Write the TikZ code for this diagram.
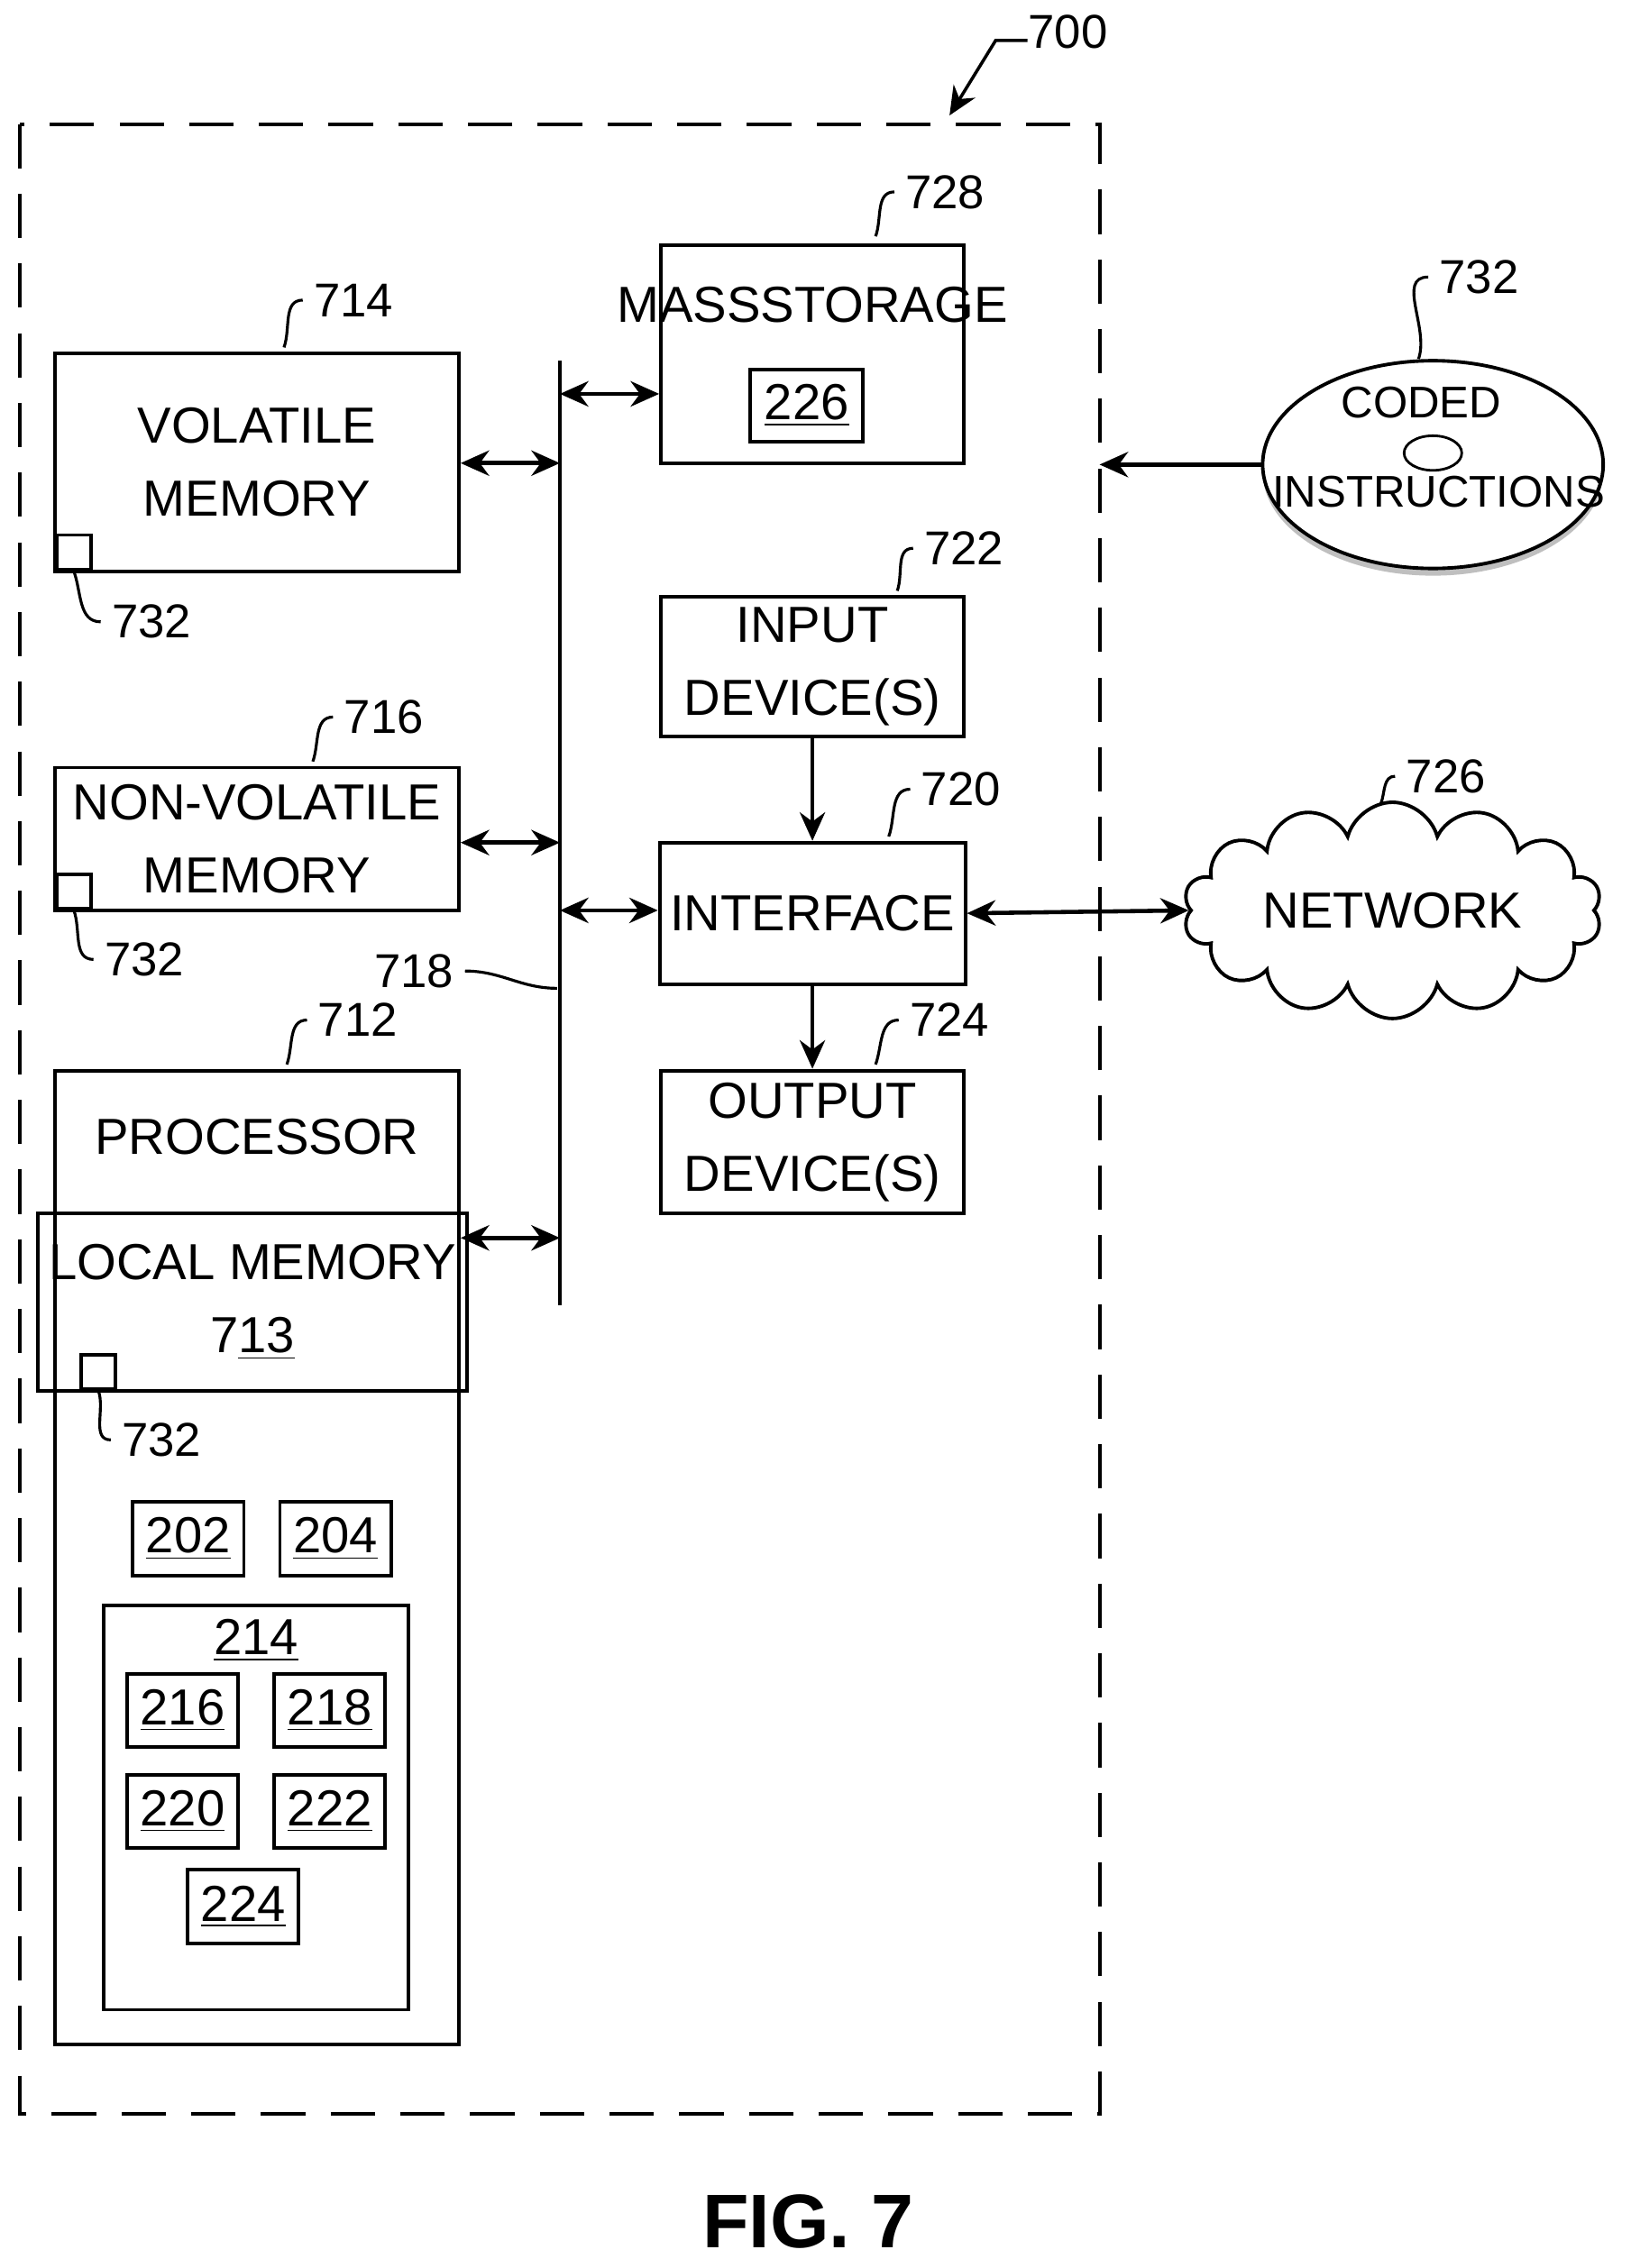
\documentclass[tikz,border=0pt]{standalone}
\usepackage{fontspec}
\setmainfont{Liberation Sans}
\usetikzlibrary{arrows.meta,shapes.symbols,shapes.geometric}
\tikzset{
  blk/.style={draw,line width=1.1pt,align=center},
  ref/.style={font=\fontsize{15}{17}\selectfont},
  dbl/.style={{Stealth[length=9pt,width=8pt]}-{Stealth[length=9pt,width=8pt]},line width=1.3pt},
  sgl/.style={-{Stealth[length=9pt,width=8pt]},line width=1.3pt},
  lead/.style={line width=0.9pt}
}
\begin{document}
\begin{tikzpicture}[x=0.016cm,y=-0.016cm,font=\fontsize{16}{23}\selectfont]
\useasboundingbox (0,0) rectangle (1130,1572);
%\draw[help lines] (0,0) grid (1130,1572);
\draw [dash pattern=on 14pt off 8pt,line width=1.1pt] (14,86) rectangle (762,1465);
\node (l700) [ref] at (740,22) {700};
\draw [sgl,line width=1pt] (712,28) -- (690,28) -- (658,80);

% memories
\node (vol) [blk,minimum width=280*0.016cm,minimum height=151*0.016cm] at (178,320.5) {VOLATILE\\MEMORY};
\node (nvol) [blk,minimum width=280*0.016cm,minimum height=99*0.016cm] at (178,581.5) {NON-VOLATILE\\MEMORY};
\node (proc) [blk,minimum width=280*0.016cm,minimum height=675*0.016cm] at (178,1079.5) {};
\node (proct) at (178,788) {PROCESSOR};
\node (loc) [blk,minimum width=240*0.016cm,minimum height=123*0.016cm] at (175,902.5) {LOCAL MEMORY\\7\underline{13}};
\node (q1) [blk,minimum size=24*0.016cm,anchor=south west] at (38,396) {};
\node (q2) [blk,minimum size=24*0.016cm,anchor=south west] at (38,631) {};
\node (q3) [blk,minimum size=24*0.016cm,anchor=south west] at (55,964) {};
\node (r202) [blk,minimum width=77*0.016cm,minimum height=51*0.016cm] at (130.5,1066.5) {\underline{202}};
\node (r204) [blk,minimum width=77*0.016cm,minimum height=51*0.016cm] at (232.5,1066.5) {\underline{204}};
\node (r214) [blk,minimum width=211*0.016cm,minimum height=280*0.016cm] at (177.5,1253) {};
\node (t214) at (177.5,1137) {\underline{214}};
\node (r216) [blk,minimum width=77*0.016cm,minimum height=51*0.016cm] at (126.5,1185.5) {\underline{216}};
\node (r218) [blk,minimum width=77*0.016cm,minimum height=51*0.016cm] at (228.5,1185.5) {\underline{218}};
\node (r220) [blk,minimum width=77*0.016cm,minimum height=51*0.016cm] at (126.5,1255.5) {\underline{220}};
\node (r222) [blk,minimum width=77*0.016cm,minimum height=51*0.016cm] at (228.5,1255.5) {\underline{222}};
\node (r224) [blk,minimum width=77*0.016cm,minimum height=51*0.016cm] at (168.5,1321.5) {\underline{224}};

% right column
\node (mass) [blk,minimum width=210*0.016cm,minimum height=151*0.016cm] at (563,245.5) {};
\node (masst) at (563,211) {MASS\\STORAGE};
\node (r226) [blk,minimum width=78*0.016cm,minimum height=50*0.016cm] at (559,281) {\underline{226}};
\node (inp) [blk,minimum width=210*0.016cm,minimum height=94*0.016cm] at (563,462) {INPUT\\DEVICE(S)};
\node (intf) [blk,minimum width=210*0.016cm,minimum height=98*0.016cm] at (563,633) {INTERFACE};
\node (outp) [blk,minimum width=210*0.016cm,minimum height=99*0.016cm] at (563,791.5) {OUTPUT\\DEVICE(S)};
\node (net) [cloud,draw,line width=1.1pt,cloud puffs=14,aspect=2.6,minimum width=290*0.016cm,minimum height=115*0.016cm] at (965,631) {NETWORK};

% disc
\fill [gray!50] (993,327) ellipse [x radius=118*0.016cm,y radius=72*0.016cm];
\node (disc) [draw,fill=white,ellipse,line width=1.1pt,minimum width=236*0.016cm,minimum height=144*0.016cm] at (993,322) {};
\node (hole) [draw,ellipse,line width=0.8pt,minimum width=40*0.016cm,minimum height=24*0.016cm] at (993,314) {};
\node [font=\fontsize{14}{16}\selectfont] at (985,279) {CODED};
\node [font=\fontsize{14}{16}\selectfont] at (997,341) {INSTRUCTIONS};

% bus
\coordinate (bt) at (388,250);
\coordinate (bb) at (388,905);
\draw [line width=1.1pt] (bt) -- (bb);
\coordinate (b1) at (388,321);
\coordinate (b2) at (388,584);
\coordinate (b3) at (388,858);
\coordinate (b4) at (388,273);
\coordinate (b5) at (388,631);
\coordinate (dd) at (762,322);

% reference numbers
\node (l728) [ref] at (655,133) {728};
\node (l714) [ref] at (245,208) {714};
\node (l716) [ref] at (266,497) {716};
\node (l712) [ref] at (248,707) {712};
\node (l722) [ref] at (668,380) {722};
\node (l720) [ref] at (666,547) {720};
\node (l724) [ref] at (658,707) {724};
\node (l726) [ref] at (1002,538) {726};
\node (l732a) [ref] at (1025,192) {732};
\node (l732b) [ref] at (105,431) {732};
\node (l732c) [ref] at (100,665) {732};
\node (l732d) [ref] at (112,998) {732};
\node (l718) [ref] at (287,673) {718};

\path
(vol.east |- b1) edge [dbl] (b1)
(nvol.east |- b2) edge [dbl] (b2)
(proc.east |- b3) edge [dbl] (b3)
(b4) edge [dbl] (mass.west |- b4)
(b5) edge [dbl] (intf.west |- b5)
(intf.east) edge [dbl] (net.west)
(inp.south) edge [sgl] (intf.north)
(intf.south) edge [sgl] (outp.north)
(disc.west) edge [sgl] (dd);

\draw [lead] (mass.north west) ++(150,-5) to[out=70,in=180] (l728.west);
\draw [lead] (vol.north west) ++(160,-3) to[out=70,in=180] (l714.west);
\draw [lead] (nvol.north west) ++(180,-3) to[out=70,in=180] (l716.west);
\draw [lead] (proc.north west) ++(162,-3) to[out=70,in=180] (l712.west);
\draw [lead] (inp.north west) ++(165,-3) to[out=70,in=180] (l722.west);
\draw [lead] (intf.north west) ++(160,-3) to[out=70,in=180] (l720.west);
\draw [lead] (outp.north west) ++(150,-3) to[out=70,in=180] (l724.west);
\draw [lead] (net.north) ++(-8,2) to[out=70,in=180] (l726.west);
\draw [lead] (disc.north) ++(-10,0) to[out=70,in=180] (l732a.west);
\draw [lead] (q1.south) to[out=-70,in=180] (l732b.west);
\draw [lead] (q2.south) to[out=-70,in=180] (l732c.west);
\draw [lead] (q3.south) to[out=-70,in=180] (l732d.west);
\draw [lead] (l718.east) to[out=0,in=180] (386,685);

\node (fig) [font=\bfseries\fontsize{24}{28}\selectfont] at (560,1540) {FIG. 7};
\end{tikzpicture}
\end{document}
